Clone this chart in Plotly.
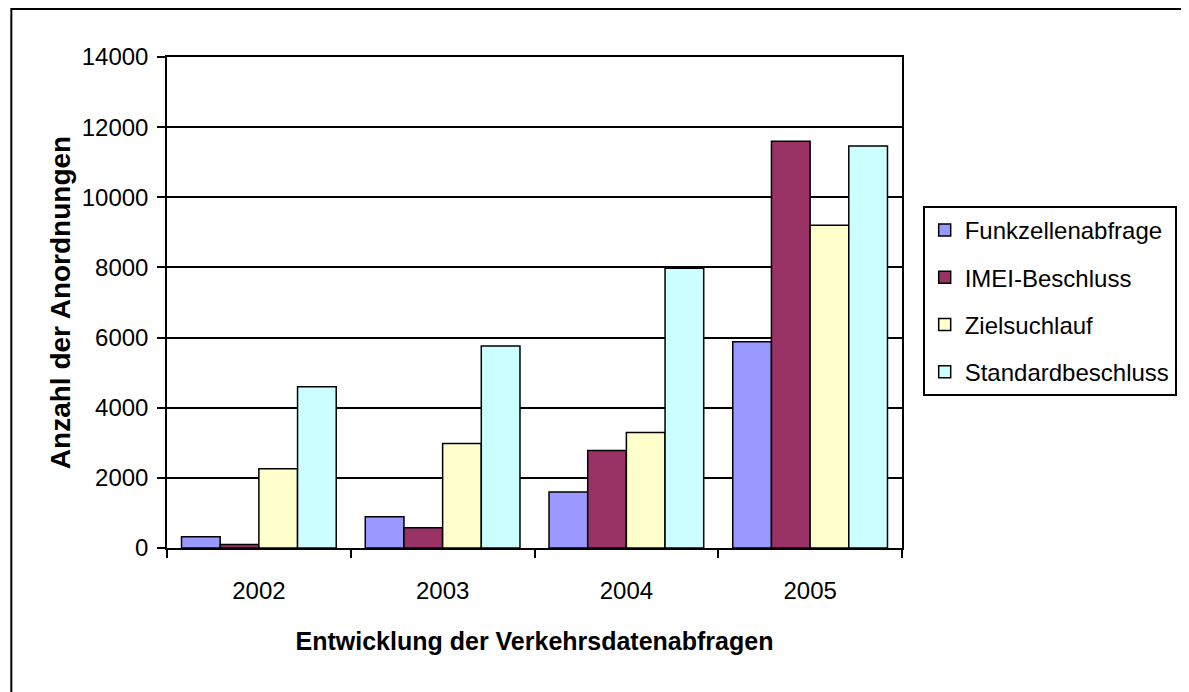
import plotly.graph_objects as go

years = ["2002", "2003", "2004", "2005"]
series_names = ["Funkzellenabfrage", "IMEI-Beschluss", "Zielsuchlauf", "Standardbeschluss"]
funkzellen = [320, 890, 1600, 5880]
imei = [100, 580, 2780, 11600]
zielsuchlauf = [2260, 2980, 3290, 9200]
standard = [4600, 5760, 7980, 11460]
colors = ["#9999FF", "#993366", "#FFFFCC", "#CCFFFF"]
y_ticks = [0, 2000, 4000, 6000, 8000, 10000, 12000, 14000]

OFF = 8  # page body margin
W, H = 1189 - OFF, 692 - OFF
L, R, T, B = 167 - OFF, 913 - OFF, 57 - OFF, 548 - OFF

font_family = "Liberation Sans, Arial, sans-serif"

fig = go.Figure()
for name, vals, col in zip(series_names, [funkzellen, imei, zielsuchlauf, standard], colors):
    fig.add_trace(go.Bar(
        x=years, y=vals, name=name, legendgroup=name,
        marker=dict(color=col, line=dict(color="black", width=1.5)),
    ))

def px_x(p):
    return (p - OFF - L) / (R - L)

def px_y(p):
    return (B - (p - OFF)) / (B - T)

fig.update_layout(
    width=W, height=H,
    margin=dict(l=L, r=W - R, t=T, b=H - B),
    paper_bgcolor="white", plot_bgcolor="white",
    barmode="group", bargap=0.158, bargroupgap=0,
    font=dict(family=font_family, color="black", size=24),
    showlegend=True,
    legend=dict(
        x=px_x(934), y=px_y(206), xanchor="left", yanchor="top",
        bordercolor="black", borderwidth=2, bgcolor="white",
        font=dict(size=24, family=font_family, color="black"),
        traceorder="grouped", tracegroupgap=13,
        entrywidth=210, entrywidthmode="pixels",
    ),
    xaxis=dict(
        showline=True, linecolor="black", linewidth=1.5, mirror=True,
        ticks="outside", tickson="boundaries", ticklen=8, tickcolor="black", tickwidth=1.5,
        tickfont=dict(size=24), ticklabelstandoff=20,
        title=dict(text="<b>Entwicklung der Verkehrsdatenabfragen</b>", font=dict(size=25), standoff=30),
        showgrid=False,
    ),
    yaxis=dict(
        range=[0, 14000], tickvals=y_ticks, ticktext=[str(v) for v in y_ticks],
        showline=True, linecolor="black", linewidth=1.5, mirror=True,
        ticks="outside", ticklen=8, tickcolor="black", tickwidth=1.5,
        tickfont=dict(size=24), ticklabelstandoff=4,
        showgrid=True, gridcolor="black", gridwidth=2,
        zeroline=False,
        title=dict(text="<b>Anzahl der Anordnungen</b>", font=dict(size=28), standoff=3),
    ),
    shapes=[dict(
        type="rect", xref="paper", yref="paper",
        x0=px_x(9), x1=px_x(1230), y0=px_y(760), y1=px_y(9),
        line=dict(color="black", width=2), fillcolor="rgba(0,0,0,0)", layer="below",
    )],
)

fig.write_html("out.html")
